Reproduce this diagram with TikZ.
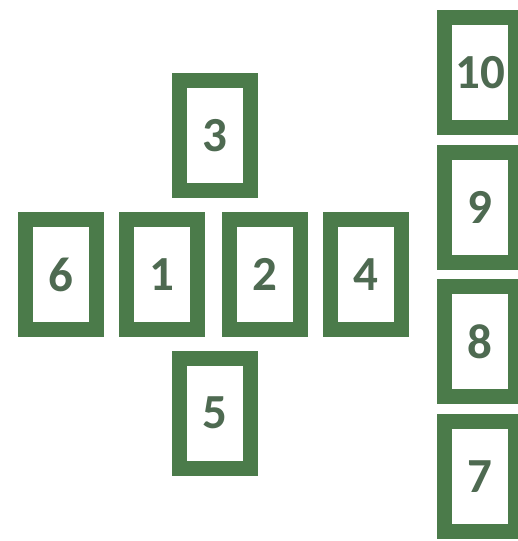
\documentclass[tikz,border=0pt]{standalone}
\usepackage{fontspec}
\setmainfont{Carlito}
\usepackage{tikz}
\usetikzlibrary{positioning}
\definecolor{cardgreen}{HTML}{4B7B4A}
\definecolor{digitgreen}{HTML}{4E6A51}

\tikzset{
  card/.style={draw=cardgreen, fill=white, line width=15pt, inner sep=0pt, outer sep=0pt,
    minimum width=71pt, minimum height=110pt, text=digitgreen,
    font=\bfseries\fontsize{49}{49}\selectfont}
}

\begin{document}
\begin{tikzpicture}[x=1pt, y=-1pt]
  \useasboundingbox (0,0) rectangle (518,541);
  % cross of cards
  \foreach \n/\x/\y in {3/215/135.5, 6/60.5/274.5, 1/161.5/274.5, 2/264.5/274.5,
                        4/365.5/274.5, 5/215/413}
    \node[card] (card\n) at (\x,\y) {\n};
  % staff on the right
  \foreach \n/\y in {10/72.5, 9/207, 8/341.5, 7/476.5}
    \node[card] (card\n) at (480,\y) {\n};
\end{tikzpicture}
\end{document}
